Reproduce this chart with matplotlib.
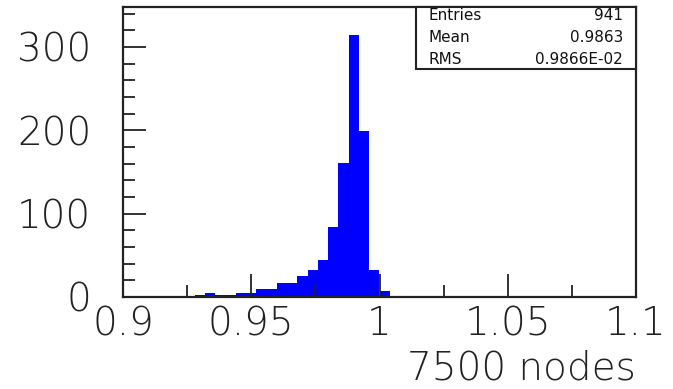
import matplotlib
matplotlib.use("Agg")
import matplotlib.pyplot as plt
from matplotlib.ticker import MultipleLocator
from matplotlib.patches import Rectangle

# ---- data ----
bin_left = [0.928, 0.932, 0.936, 0.940, 0.944, 0.948, 0.952, 0.956, 0.960,
            0.964, 0.968, 0.972, 0.976, 0.980, 0.984, 0.988, 0.992, 0.996, 1.000]
counts = [3, 5, 3, 3, 5, 5, 10, 10, 17, 17, 25, 32, 45, 84, 161, 314, 199, 32, 7]
bin_width = 0.004
stat_names = ["Entries", "Mean", "RMS"]
stat_values = ["941", "0.9863", "0.9866E-02"]
x_label = "7500 nodes"
x_ticks = [0.9, 0.95, 1.0, 1.05, 1.1]
x_ticklabels = ["0.9", "0.95", "1", "1.05", "1.1"]
y_ticks = [0, 100, 200, 300]

W, H = 673, 389
fig = plt.figure(figsize=(W / 100, H / 100), dpi=100)
ax = fig.add_axes([123 / W, (H - 297) / H, (636 - 123) / W, (297 - 7) / H])

ax.bar(bin_left, counts, width=bin_width, align="edge", color="#0000ff",
       edgecolor="none", linewidth=0)

ax.set_xlim(0.9, 1.1)
ax.set_ylim(0, 348)

font = dict(family="DejaVu Sans", weight="light")
ax.set_xticks(x_ticks)
ax.set_xticklabels(x_ticklabels, fontsize=28, color="#222222", **font)
ax.set_yticks(y_ticks)
ax.set_yticklabels([str(v) for v in y_ticks], fontsize=28, color="#222222", **font)
ax.xaxis.set_minor_locator(MultipleLocator(0.025))
ax.yaxis.set_minor_locator(MultipleLocator(20))
ax.tick_params(axis="both", which="major", direction="in", length=16.5,
               width=1.3, color="#222222", top=False, right=False)
ax.tick_params(axis="both", which="minor", direction="in", length=8.6,
               width=1.3, color="#222222", top=False, right=False)
ax.tick_params(axis="x", which="major", pad=6)
ax.tick_params(axis="y", which="major", pad=23)

for s in ax.spines.values():
    s.set_linewidth(1.6)
    s.set_color("#222222")

fig.text(636 / W, 1 / H, x_label, ha="right", va="bottom",
         fontsize=28, color="#222222", **font)

# stats box
bx0, bx1, by0, by1 = 416, 636, 7, 69
fig.patches.append(Rectangle((bx0 / W, (H - by1) / H), (bx1 - bx0) / W,
                             (by1 - by0) / H, transform=fig.transFigure,
                             facecolor="white", edgecolor="#222222",
                             linewidth=1.5, zorder=5))
row_y = [16, 37, 59]
for name, val, ry in zip(stat_names, stat_values, row_y):
    fig.text(428 / W, (H - ry) / H, name, ha="left", va="center",
             fontsize=11, color="#111111", zorder=6)
    fig.text(623 / W, (H - ry) / H, val, ha="right", va="center",
             fontsize=11, color="#111111", zorder=6)

fig.savefig("out.png", dpi=100)
